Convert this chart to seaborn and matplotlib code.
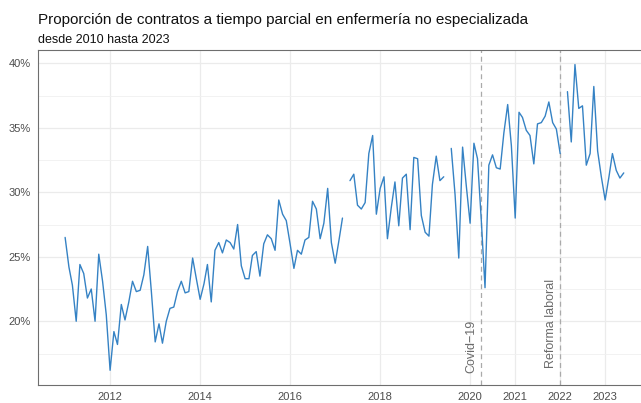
import numpy as np
import pandas as pd
import matplotlib
matplotlib.use("Agg")
import matplotlib.pyplot as plt
import matplotlib.dates as mdates
from matplotlib.ticker import MultipleLocator, FuncFormatter
import seaborn as sns

# Proporcion mensual (%) de contratos a tiempo parcial, enero 2011 - junio 2023
# (nan = mes sin dato)
valores_2011 = [26.5, 24.2, 22.8, 20.0, 24.4, 23.7, 21.8, 22.5, 20.0, 25.2, 23.1, 20.5]
valores_2012 = [16.2, 19.2, 18.2, 21.3, 20.1, 21.5, 23.1, 22.3, 22.4, 23.6, 25.8, 22.3]
valores_2013 = [18.4, 19.8, 18.3, 20.0, 21.0, 21.1, 22.3, 23.1, 22.2, 22.3, 24.9, 23.3]
valores_2014 = [21.7, 22.9, 24.4, 21.5, 25.5, 26.1, 25.3, 26.3, 26.1, 25.6, 27.5, 24.3]
valores_2015 = [23.3, 23.3, 25.1, 25.4, 23.5, 26.0, 26.7, 26.4, 25.5, 29.4, 28.3, 27.8]
valores_2016 = [26.0, 24.1, 25.5, 25.2, 26.3, 26.5, 29.3, 28.7, 26.4, 27.6, 30.3, 26.1]
valores_2017 = [24.5, 26.3, 28.0, np.nan, 30.9, 31.4, 29.0, 28.7, 29.2, 33.0, 34.4, 28.3]
valores_2018 = [30.3, 31.2, 26.4, 28.8, 30.8, 27.4, 31.1, 31.4, 27.1, 32.7, 32.6, 28.2]
valores_2019 = [26.9, 26.6, 30.6, 32.8, 30.9, 31.2, np.nan, 33.4, 29.8, 24.9, 33.5, 30.5]
valores_2020 = [27.6, 33.8, 32.6, 27.8, 22.6, 32.1, 32.9, 31.9, 31.8, 34.6, 36.8, 33.6]
valores_2021 = [28.0, 36.2, 35.8, 34.8, 34.4, 32.2, 35.3, 35.4, 35.9, 37.0, 35.4, 34.9]
valores_2022 = [33.0, np.nan, 37.8, 33.9, 39.9, 36.5, 36.7, 32.1, 33.0, 38.2, 33.2, 31.2]
valores_2023 = [29.4, 31.2, 33.0, 31.7, 31.1, 31.5]

eventos = ["Covid\u221219", "Reforma laboral"]
fechas_eventos = ["2020-04-01", "2022-01-01"]
anios_ticks = [2012, 2014, 2016, 2018, 2020, 2021, 2022, 2023]

serie = (valores_2011 + valores_2012 + valores_2013 + valores_2014 + valores_2015
         + valores_2016 + valores_2017 + valores_2018 + valores_2019 + valores_2020
         + valores_2021 + valores_2022 + valores_2023)

df = pd.DataFrame({
    "fecha": pd.date_range("2011-01-01", periods=len(serie), freq="MS"),
    "proporcion": serie,
})
# cada hueco corta la linea en un tramo nuevo
df["tramo"] = df["proporcion"].isna().cumsum()
df = df.dropna()

sns.set_theme(style="whitegrid")
plt.rcParams["font.family"] = ["Liberation Sans", "DejaVu Sans"]

fig = plt.figure(figsize=(6.41, 4.03), dpi=100)
ax = fig.add_axes([0.0593, 0.0447, 0.9407, 0.8313])

sns.lineplot(data=df, x="fecha", y="proporcion", units="tramo", estimator=None,
             color="#3582c4", linewidth=1.0, ax=ax)

# lineas de eventos
y_textos = [0.036, 0.051]
for ev, f, yt in zip(eventos, fechas_eventos, y_textos):
    xf = mdates.date2num(pd.Timestamp(f))
    ax.axvline(xf, color="#aaaaaa", linestyle=(0, (4, 3)), linewidth=0.9, zorder=1)
    ax.annotate(ev, xy=(xf, yt), xycoords=("data", "axes fraction"),
                xytext=(-2.5, 0), textcoords="offset points",
                rotation=90, ha="right", va="bottom", color="#6b6b6b", fontsize=9)

ax.set_xlim(pd.Timestamp("2010-05-26"), pd.Timestamp("2023-10-19"))
ax.set_ylim(15.06, 41.03)

ax.set_xticks([pd.Timestamp(f"{a}-01-01") for a in anios_ticks])
ax.set_xticklabels([str(a) for a in anios_ticks])
ax.set_yticks([20, 25, 30, 35, 40])
ax.yaxis.set_major_formatter(FuncFormatter(lambda v, p: f"{v:.0f}%"))
ax.yaxis.set_minor_locator(MultipleLocator(2.5))

ax.grid(which="major", color="#ebebeb", linewidth=0.9)
ax.grid(which="minor", axis="y", color="#f0f0f0", linewidth=0.6)
ax.grid(which="minor", axis="x", visible=False)
ax.set_axisbelow(True)

ax.tick_params(which="major", length=3, width=0.6, color="#333333",
               labelsize=8, labelcolor="#4d4d4d", pad=2)
ax.tick_params(which="minor", length=0)

for lado in ["left", "bottom", "top"]:
    ax.spines[lado].set_color("#6e6e6e")
    ax.spines[lado].set_linewidth(0.8)
ax.spines["right"].set_visible(False)

ax.set_xlabel("")
ax.set_ylabel("")

fig.text(0.0593, 0.940, "Proporción de contratos a tiempo parcial en enfermería no especializada",
         fontsize=11, color="#111111", va="baseline", ha="left")
fig.text(0.0593, 0.893, "desde 2010 hasta 2023", fontsize=9, color="#111111",
         va="baseline", ha="left")

fig.savefig("out.png", dpi=100)
